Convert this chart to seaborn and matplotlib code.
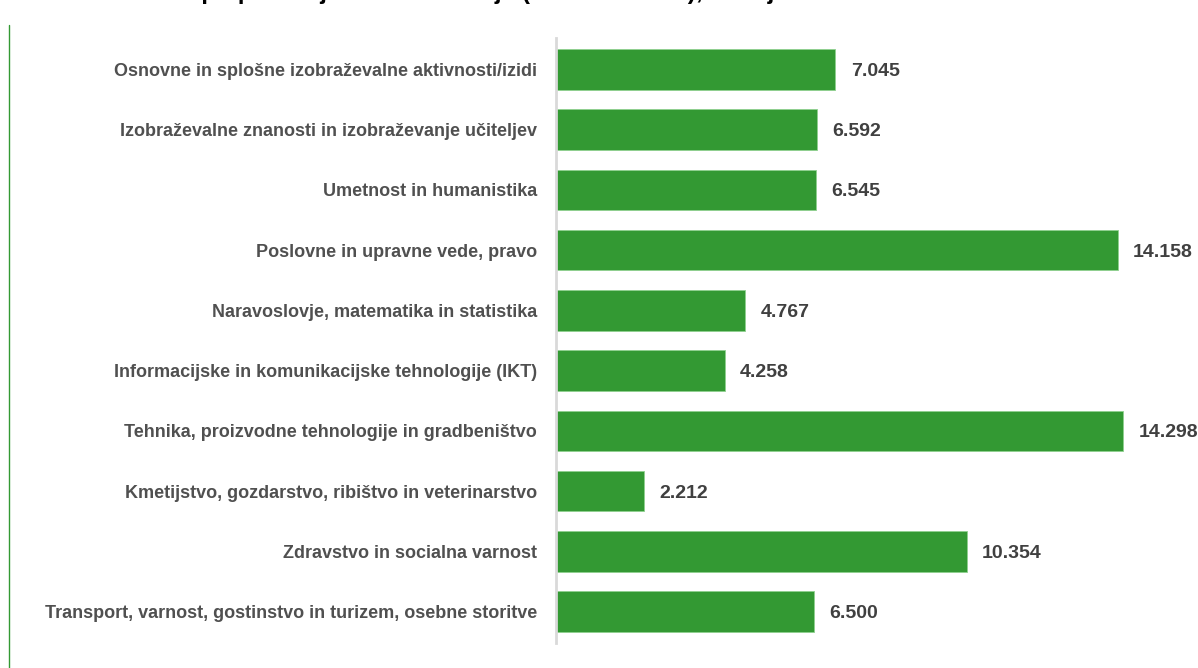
import matplotlib
matplotlib.use("Agg")
import matplotlib.pyplot as plt
from matplotlib.lines import Line2D
import seaborn as sns
import pandas as pd

# podatki
podrocja = [
    "Osnovne in splošne izobraževalne aktivnosti/izidi",
    "Izobraževalne znanosti in izobraževanje učiteljev",
    "Umetnost in humanistika",
    "Poslovne in upravne vede, pravo",
    "Naravoslovje, matematika in statistika",
    "Informacijske in komunikacijske tehnologije (IKT)",
    "Tehnika, proizvodne tehnologije in gradbeništvo",
    "Kmetijstvo, gozdarstvo, ribištvo in veterinarstvo",
    "Zdravstvo in socialna varnost",
    "Transport, varnost, gostinstvo in turizem, osebne storitve",
]
studenti = [7.045, 6.592, 6.545, 14.158, 4.767, 4.258, 14.298, 2.212, 10.354, 6.500]
naslov = "Slika 1: Študenti po področjih izobraževanja (KLASIUS-P16), študijsko leto 2022/2023"

sns.set_theme(style="white")
plt.rcParams['font.family'] = ['Liberation Sans', 'DejaVu Sans']

GREEN = "#339933"
TEXT = "#404040"
LABEL = "#505050"

df = pd.DataFrame({"podrocje": podrocja, "studenti": studenti})

fig = plt.figure(figsize=(11.98, 6.68), dpi=100)
ax = fig.add_axes([0.4641, 0.0374, 0.5297, 0.9057])

sns.barplot(data=df, x="studenti", y="podrocje", orient="h", color=GREEN,
            saturation=1, width=0.67, edgecolor="#8fd08f", linewidth=0.6, ax=ax)

ax.set_xlim(0, 16)
ax.set_ylim(9.52, -0.52)
ax.set_xlabel("")
ax.set_ylabel("")
ax.set_xticks([])
for s in ["top", "right", "bottom"]:
    ax.spines[s].set_visible(False)
ax.spines["left"].set_color("#d9d9d9")
ax.spines["left"].set_linewidth(2)
ax.tick_params(axis="y", length=0, pad=13.5)
for lab in ax.get_yticklabels():
    lab.set_fontweight("bold")
    lab.set_fontsize(13)
    lab.set_color(LABEL)

for i, v in enumerate(studenti):
    ax.annotate(f"{v:.3f}", xy=(v, i), xytext=(11, 0), textcoords="offset points",
                va="center_baseline", ha="left", fontsize=14, fontweight="bold", color=TEXT)

# odrezan naslov (vidni so le spodnji robovi črk) in zelena črta levo
fig.text(0.004, 1 + 1 / 668, naslov, ha="left", va="baseline",
         fontsize=17.5, fontweight="bold", color="black")
fig.add_artist(Line2D([9 / 1198, 9 / 1198], [0, 1 - 25 / 668],
                      transform=fig.transFigure, color="#339933", lw=1))

fig.savefig("out.png", dpi=100)
